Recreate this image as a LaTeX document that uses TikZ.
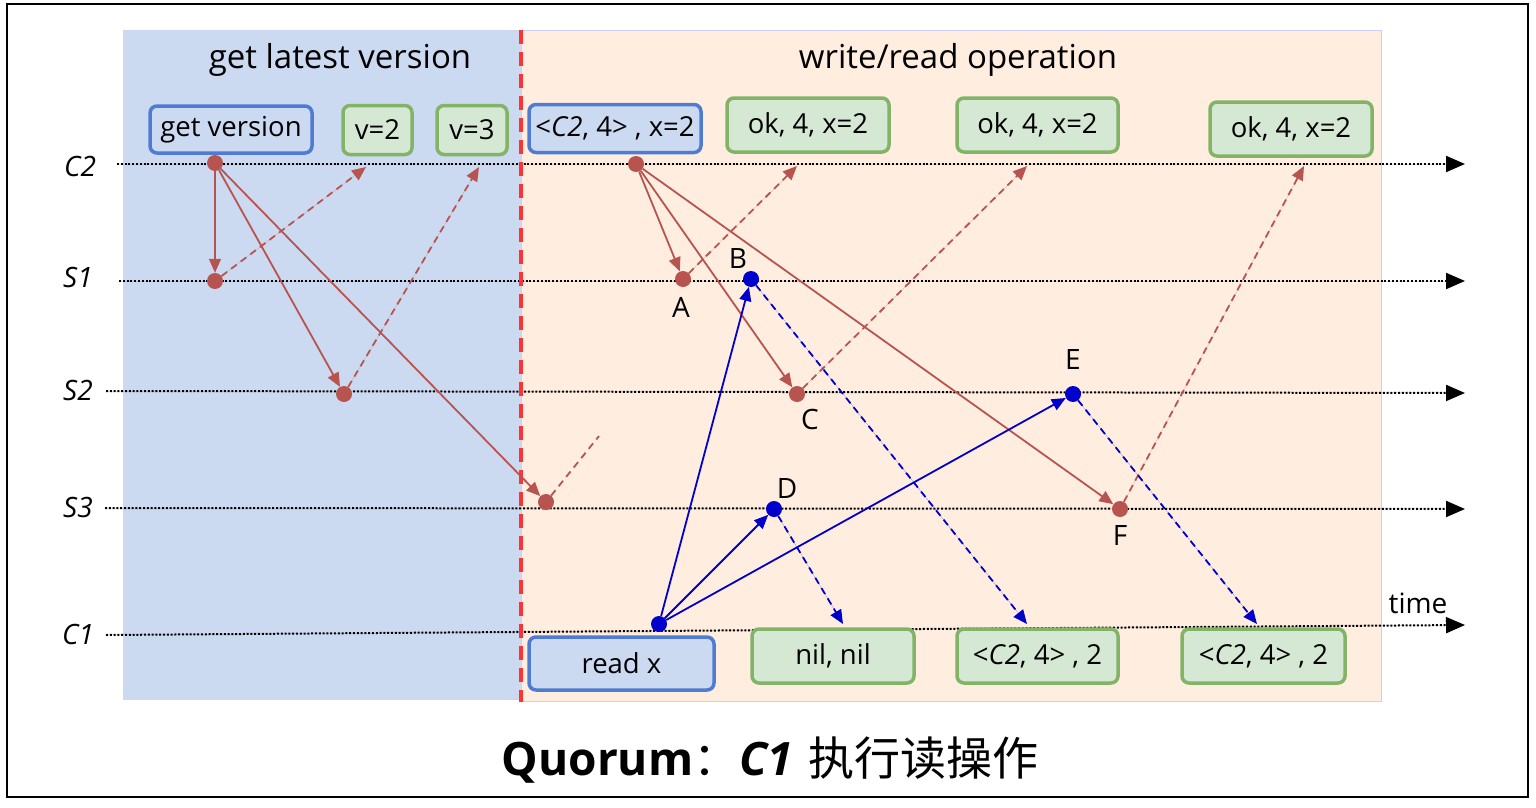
\documentclass[tikz,border=0pt]{standalone}
\usepackage{fontspec}
\setmainfont{Open Sans}
\newfontfamily\cjkfont{Noto Sans CJK SC}
\usetikzlibrary{arrows.meta}
\definecolor{bgblue}{HTML}{CCDAF1}
\definecolor{bgorange}{HTML}{FFEEE0}
\definecolor{bluebd}{HTML}{4F7BD3}
\definecolor{greenbd}{HTML}{82B366}
\definecolor{greenfill}{HTML}{D5E8D4}
\definecolor{rdred}{HTML}{B85450}
\definecolor{dkblue}{HTML}{0000CC}
\definecolor{sepred}{HTML}{FF3333}
\tikzset{
  x=1pt,y=-1pt,
  txt/.style={font=\fontsize{33}{36}\selectfont, inner sep=0pt},
  bluebox/.style={draw=bluebd, fill=bgblue, line width=3.5pt, rounded corners=7pt, font=\fontsize{27.5}{30}\selectfont, inner sep=0pt},
  greenbox/.style={draw=greenbd, fill=greenfill, line width=3.5pt, rounded corners=7pt, font=\fontsize{27.5}{30}\selectfont, inner sep=0pt},
  rdot/.style={circle, fill=rdred, inner sep=0pt, minimum size=16pt},
  bdot/.style={circle, fill=dkblue, inner sep=0pt, minimum size=16pt},
  rarrow/.style={draw=rdred, line width=1.8pt, -{Triangle[length=14pt,width=12pt]}, fill=rdred},
  rdash/.style={draw=rdred, line width=1.8pt, dash pattern=on 7pt off 5pt, -{Triangle[length=14pt,width=12pt]}, fill=rdred},
  rdashplain/.style={draw=rdred, line width=1.8pt, dash pattern=on 7pt off 5pt},
  barrow/.style={draw=dkblue, line width=1.8pt, -{Triangle[length=14pt,width=12pt]}, fill=dkblue},
  bdash/.style={draw=dkblue, line width=1.8pt, dash pattern=on 7pt off 5pt, -{Triangle[length=14pt,width=12pt]}, fill=dkblue},
  timeline/.style={draw=black, line width=2pt, dash pattern=on 2pt off 1.8pt, -{Triangle[length=19pt,width=16pt]}, fill=black},
  lbl/.style={font=\fontsize{28}{30}\selectfont, inner sep=0pt},
}
\begin{document}
\begin{tikzpicture}
\useasboundingbox (0,0) rectangle (1536,808);
\fill[white] (0,0) rectangle (1536,808);
% outer frame
\draw[line width=2pt] (7,4) rectangle (1528,797);
% background regions
\fill[bgblue] (123,30) rectangle (521,700);
\fill[bgorange] (521,30) rectangle (1381,701);
\draw[draw=bgblue!80!blue!60, line width=0.8pt] (521,30) rectangle (1381,701);
% phase titles
\node[txt] (t1) at (340,60) {get latest version};
\node[txt] (t2) at (958,60) {write/read operation};
% time lines
\coordinate (c2s) at (117,164); \coordinate (c2e) at (1465,164);
\coordinate (s1s) at (119,281); \coordinate (s1e) at (1465,281);
\coordinate (s2s) at (106,391); \coordinate (s2e) at (1465,393);
\coordinate (s3s) at (105,508); \coordinate (s3e) at (1465,509);
\coordinate (c1s) at (106,635); \coordinate (c1e) at (1465,625);
\draw[timeline] (c2s) -- (c2e);
\draw[timeline] (s1s) -- (s1e);
\draw[timeline] (s2s) -- (s2e);
\draw[timeline] (s3s) -- (s3e);
\draw[timeline] (c1s) -- (c1e);
% separator
\coordinate (sept) at (521,30); \coordinate (sepb) at (521,702);
\draw[sepred, line width=3.5pt, dash pattern=on 14pt off 8pt] (sept) -- (sepb);
% process labels
\node[lbl] (lc2) at (80,166) {\textit{C2}};
\node[lbl] (ls1) at (78,277) {\textit{S1}};
\node[lbl] (ls2) at (78,390) {\textit{S2}};
\node[lbl] (ls3) at (78,507) {\textit{S3}};
\node[lbl] (lc1) at (78,634) {\textit{C1}};
\node[lbl] (ltime) at (1418,603) {time};
% boxes
\node[bluebox, minimum width=162pt, minimum height=47pt] (gv) at (231,129.5) {get version};
\node[greenbox, minimum width=69pt, minimum height=49pt] (v2) at (377.5,130) {v=2};
\node[greenbox, minimum width=70pt, minimum height=49pt] (v3) at (472,130) {v=3};
\node[bluebox, minimum width=172pt, minimum height=48pt] (wr) at (615,128.5) {<\textit{C2}, 4> , x=2};
\node[greenbox, minimum width=162pt, minimum height=54pt] (ok1) at (808,125) {ok, 4, x=2};
\node[greenbox, minimum width=161pt, minimum height=54pt] (ok2) at (1037.5,125) {ok, 4, x=2};
\node[greenbox, minimum width=162pt, minimum height=54pt] (ok3) at (1291,129) {ok, 4, x=2};
\node[bluebox, minimum width=185pt, minimum height=53pt] (rx) at (621.5,663.5) {read x};
\node[greenbox, minimum width=162pt, minimum height=54pt] (nn) at (833,656) {nil, nil};
\node[greenbox, minimum width=161pt, minimum height=54pt] (r2) at (1037.5,656) {<\textit{C2}, 4> , 2};
\node[greenbox, minimum width=163pt, minimum height=54pt] (r3) at (1263.5,656) {<\textit{C2}, 4> , 2};
% dots
\node[rdot] (p0) at (215,163) {};
\node[rdot] (q1) at (215,281) {};
\node[rdot] (q2) at (344,394) {};
\node[rdot] (q3) at (546,502) {};
\node[rdot] (w0) at (636,164) {};
\node[rdot] (A) at (683,279) {};
\node[rdot] (C) at (797,394) {};
\node[rdot] (F) at (1120,509) {};
\node[bdot] (r0) at (659,624) {};
\node[bdot] (B) at (751,279) {};
\node[bdot] (D) at (774,509) {};
\node[bdot] (E) at (1073,394) {};
% dot labels
\node[lbl] (lA) at (681,307) {A};
\node[lbl] (lB) at (738,259) {B};
\node[lbl] (lC) at (810,419) {C};
\node[lbl] (lD) at (787,488) {D};
\node[lbl] (lE) at (1073,360) {E};
\node[lbl] (lF) at (1120,535) {F};
% free ends
\coordinate (e1) at (366,167);
\coordinate (e2) at (479,167);
\coordinate (e3) at (599,436);
\coordinate (eA) at (797,166);
\coordinate (eC) at (1027,166);
\coordinate (eF) at (1304,166);
\coordinate (eB) at (1027,624);
\coordinate (eD) at (843,624);
\coordinate (eE) at (1257,624);
% phase 1 arrows
\draw[rarrow] (p0) -- (q1);
\draw[rarrow] (p0) -- (q2);
\draw[rarrow] (p0) -- (q3);
\draw[rdash] (q1) -- (e1);
\draw[rdash] (q2) -- (e2);
\draw[rdashplain] (q3) -- (e3);
% write arrows
\draw[rarrow] (w0) -- (A);
\draw[rarrow] (w0) -- (C);
\draw[rarrow] (w0) -- (F);
\draw[rdash] (A) -- (eA);
\draw[rdash] (C) -- (eC);
\draw[rdash] (F) -- (eF);
% read arrows
\draw[barrow] (r0) -- (B);
\draw[barrow] (r0) -- (D);
\draw[barrow] (r0) -- (E);
\draw[bdash] (B) -- (eB);
\draw[bdash] (D) -- (eD);
\draw[bdash] (E) -- (eE);
% caption
\node[inner sep=0pt] (cap) at (770,760) {\fontsize{46}{50}\selectfont\bfseries Quorum{\cjkfont\mdseries ：}\textit{C1}\,\,{\cjkfont\mdseries 执行读操作}};
\end{tikzpicture}
\end{document}
